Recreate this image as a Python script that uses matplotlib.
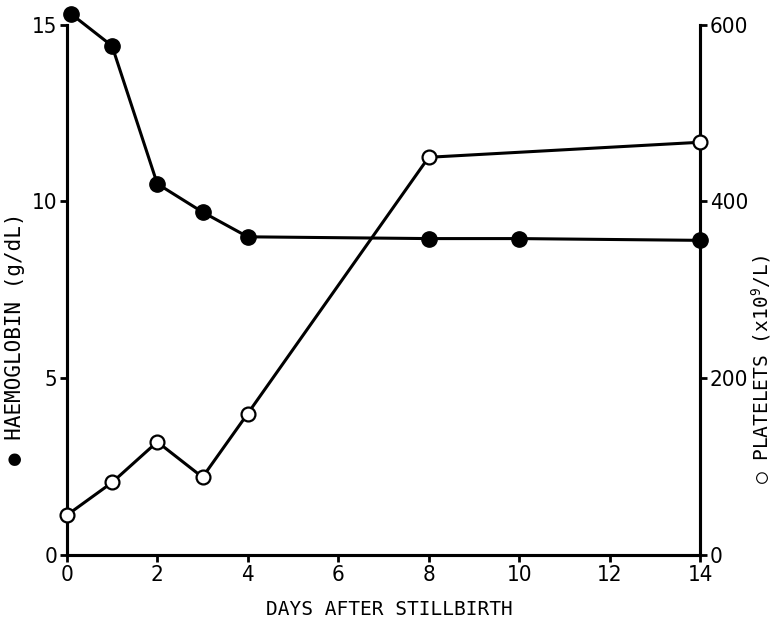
import matplotlib
matplotlib.use("Agg")
import matplotlib.pyplot as plt

# days after stillbirth
hb_days = [0.1, 1, 2, 3, 4, 8, 10, 14]
haemoglobin = [15.3, 14.4, 10.5, 9.7, 9.0, 8.95, 8.95, 8.9]

plt_days = [0, 1, 2, 3, 4, 8, 14]
platelets = [45, 82, 128, 88, 160, 450, 467]

x_ticks = [0, 2, 4, 6, 8, 10, 12, 14]
hb_ticks = [0, 5, 10, 15]
plt_ticks = [0, 200, 400, 600]

plt.rcParams['font.family'] = ['DejaVu Sans']
plt.rcParams['font.stretch'] = 'condensed'
mono = ['DejaVu Sans Mono', 'DejaVu Sans']

fig = plt.figure(figsize=(7.77, 6.18), dpi=100)
ax = fig.add_axes([0.086, 0.102, 0.815, 0.858])
ax2 = ax.twinx()

ax.plot(hb_days, haemoglobin, color='black', lw=2.2, marker='o',
        ms=11, mfc='black', mec='black', clip_on=False, zorder=3)
ax2.plot(plt_days, platelets, color='black', lw=2.2, marker='o',
         ms=10, mfc='white', mec='black', mew=1.6, clip_on=False, zorder=3)

ax.set_xlim(0, 14)
ax.set_ylim(0, 15)
ax2.set_ylim(0, 600)
ax.set_xticks(x_ticks)
ax.set_yticks(hb_ticks)
ax2.set_yticks(plt_ticks)

for a in (ax, ax2):
    a.spines['top'].set_visible(False)
    for s in ('left', 'right', 'bottom'):
        a.spines[s].set_linewidth(2.2)
    a.tick_params(width=2, length=5, labelsize=16, pad=2)

ax.set_xlabel('DAYS AFTER STILLBIRTH', fontsize=14, family=mono)
ax.xaxis.set_label_coords(0.51, -0.085)
ax.set_ylabel('\u25CF HAEMOGLOBIN (g/dL)', fontsize=15, family=mono)
ax.yaxis.set_label_coords(-0.066, 0.408)
ax2.set_ylabel('\u25CB PLATELETS (x10$^{9}$/L)', fontsize=14, family=mono)
ax2.yaxis.set_label_coords(1.078, 0.35)

fig.savefig('out.png', dpi=100)
